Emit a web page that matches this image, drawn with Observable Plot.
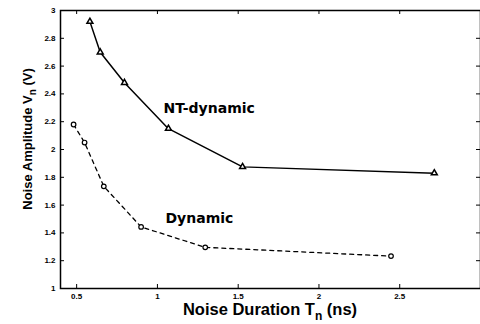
<!DOCTYPE html>
<html><head><meta charset="utf-8">
<script src="https://cdn.jsdelivr.net/npm/d3@7"></script>
<script src="https://cdn.jsdelivr.net/npm/@observablehq/plot@0.6"></script>
<style>body{margin:0;background:#fff}</style>
</head><body><div id="chart"></div>
<script>
const ntX = [0.582, 0.646, 0.796, 1.068, 1.527, 2.714];
const ntY = [2.92, 2.70, 2.48, 2.15, 1.875, 1.83];
const dynX = [0.481, 0.549, 0.668, 0.899, 1.296, 2.446];
const dynY = [2.18, 2.05, 1.735, 1.443, 1.296, 1.233];
const xTicks = [0.5, 1, 1.5, 2, 2.5];
const yTicks = [1, 1.2, 1.4, 1.6, 1.8, 2, 2.2, 2.4, 2.6, 2.8, 3];
const seriesLabels = [{x: 1.038, y: 2.295, text: "NT-dynamic"}, {x: 1.05, y: 1.50, text: "Dynamic"}];

const nt = ntX.map((x, i) => ({x, y: ntY[i]}));
const dyn = dynX.map((x, i) => ({x, y: dynY[i]}));
const W = 480, H = 324, mL = 60, mR = 0, mT = 10, mB = 36;
const pw = W - mL - mR, ph = H - mT - mB;
const font = "'Liberation Sans', Arial, sans-serif";

const chart = Plot.plot({
  width: W, height: H,
  marginLeft: mL, marginRight: mR, marginTop: mT, marginBottom: mB,
  style: {fontFamily: font, fontWeight: "bold", fontSize: "8px", color: "#000", background: "#fff"},
  x: {domain: [0.4, 3], label: null},
  y: {domain: [1, 3], label: null},
  marks: [
    Plot.axisX(xTicks, {tickSize: 0, tickPadding: 5, tickFormat: d => String(d), fontWeight: "bold"}),
    Plot.axisY(yTicks, {tickSize: 0, tickPadding: 5, tickFormat: d => String(d), fontWeight: "bold"}),
    Plot.ruleX(xTicks, {x: d => d, insetTop: ph - 4, stroke: "#000"}),
    Plot.ruleX(xTicks, {x: d => d, insetBottom: ph - 4, stroke: "#000"}),
    Plot.ruleY(yTicks, {y: d => d, insetRight: pw - 4, stroke: "#000"}),
    Plot.ruleY(yTicks, {y: d => d, insetLeft: pw - 4, stroke: "#000"}),
    Plot.frame({stroke: "#000", strokeWidth: 1.5}),
    Plot.line(nt, {x: "x", y: "y", stroke: "#000", strokeWidth: 1.5}),
    Plot.dot(nt, {x: "x", y: "y", symbol: "triangle", r: 2.2, stroke: "#000", fill: "#fff", strokeWidth: 1.5}),
    Plot.line(dyn, {x: "x", y: "y", stroke: "#000", strokeWidth: 1.3, strokeDasharray: "4,4"}),
    Plot.dot(dyn, {x: "x", y: "y", symbol: "circle", r: 2.3, stroke: "#000", fill: "#fff", strokeWidth: 1.2}),
    Plot.text(seriesLabels, {x: "x", y: "y", text: "text", textAnchor: "start", fontSize: 14, fontWeight: "bold", fill: "#000", fontFamily: "'DejaVu Sans', sans-serif"})
  ]
});
const svg = d3.select(chart);
const xl = svg.append("text").attr("x", 270).attr("y", 315).attr("text-anchor", "middle")
  .attr("font-family", font).attr("font-weight", "bold").attr("font-size", 16.5).attr("fill", "#000");
xl.append("tspan").text("Noise Duration T");
xl.append("tspan").attr("dy", 5).attr("font-size", 12).text("n");
xl.append("tspan").attr("dy", -5).text(" (ns)");
const yl = svg.append("text").attr("transform", "translate(32,139) rotate(-90)").attr("text-anchor", "middle")
  .attr("font-family", font).attr("font-weight", "bold").attr("font-size", 13).attr("fill", "#000");
yl.append("tspan").text("Noise Amplitude V");
yl.append("tspan").attr("dy", 4).attr("font-size", 10).text("n");
yl.append("tspan").attr("dy", -4).text(" (V)");
document.getElementById("chart").appendChild(chart);
</script></body></html>
